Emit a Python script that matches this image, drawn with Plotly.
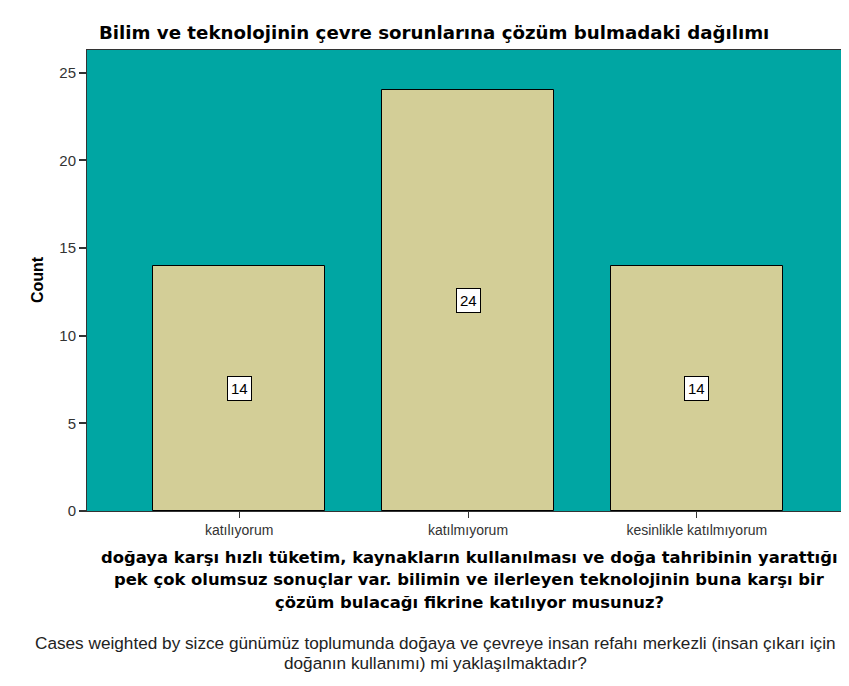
import plotly.graph_objects as go

categories = ["katılıyorum", "katılmıyorum", "kesinlikle katılmıyorum"]
counts = [14, 24, 14]
y_ticks = [0, 5, 10, 15, 20, 25]

title = "Bilim ve teknolojinin çevre sorunlarına çözüm bulmadaki dağılımı"
x_title_lines = ["doğaya karşı hızlı tüketim, kaynakların kullanılması ve doğa tahribinin yarattığı",
                 "pek çok olumsuz sonuçlar var. bilimin ve ilerleyen teknolojinin buna karşı bir",
                 "çözüm bulacağı fikrine katılıyor musunuz?"]
footnote_lines = ["Cases weighted by sizce günümüz toplumunda doğaya ve çevreye insan refahı merkezli (insan çıkarı için",
                  "doğanın kullanımı) mi yaklaşılmaktadır?"]

OFF = 8  # page body margin
W, H = 841, 668
ML, MR, MT, MB = 79, 0, 42, 165
PW = W - ML - MR
PH = H - MT - MB

def py(ypage):
    return (H - MB - (ypage - OFF)) / PH

def px(xpage):
    return ((xpage - OFF) - ML) / PW

fig = go.Figure()
fig.add_trace(go.Bar(
    x=categories, y=counts, width=0.75,
    marker=dict(color="#D3CE97", line=dict(color="#000000", width=1)),
    hoverinfo="skip",
))

for c, v in zip(categories, counts):
    fig.add_annotation(x=c, y=v / 2, xref="x", yref="y", text=str(v), showarrow=False,
                       bgcolor="white", bordercolor="black", borderwidth=1, borderpad=3,
                       font=dict(family="Liberation Sans", size=15, color="black"))

fig.add_annotation(x=px(97), y=py(32), xref="paper", yref="paper", text="<b>" + title + "</b>",
                   showarrow=False, xanchor="left", yanchor="middle",
                   font=dict(family="DejaVu Sans", size=18.2, color="black"))
for i, line in enumerate(x_title_lines):
    fig.add_annotation(x=px(469), y=py(557 + 22.5 * i), xref="paper", yref="paper", text="<b>" + line + "</b>",
                       showarrow=False, xanchor="center", yanchor="middle",
                       font=dict(family="DejaVu Sans", size=16.4, color="black"))
for i, line in enumerate(footnote_lines):
    fig.add_annotation(x=px(435), y=py(643 + 19.5 * i), xref="paper", yref="paper", text=line,
                       showarrow=False, xanchor="center", yanchor="middle",
                       font=dict(family="Liberation Sans", size=17.2, color="#222222"))
fig.add_annotation(x=px(37), y=py(280), xref="paper", yref="paper", text="<b>Count</b>",
                   showarrow=False, textangle=-90, xanchor="center", yanchor="middle",
                   font=dict(family="Liberation Sans", size=16, color="black"))

fig.update_layout(
    width=W, height=H,
    margin=dict(l=ML, r=MR, t=MT, b=MB),
    paper_bgcolor="white", plot_bgcolor="#00A6A3",
    showlegend=False, bargap=0,
    font=dict(family="Liberation Sans", color="black"),
)
fig.update_xaxes(range=[-0.665, 2.665], showline=True, linecolor="#333333", linewidth=1, mirror=True,
                 ticks="outside", ticklen=6, tickcolor="#333333", tickwidth=1,
                 tickfont=dict(family="Liberation Sans", size=14, color="#333333"), showgrid=False, fixedrange=True)
fig.update_yaxes(range=[0, 26.3], tickvals=y_ticks, showline=True, linecolor="#333333", linewidth=1, mirror=False,
                 ticks="outside", ticklen=7, tickcolor="#333333", tickwidth=2,
                 tickfont=dict(family="Liberation Sans", size=15, color="#333333"), showgrid=False, zeroline=False,
                 fixedrange=True)

fig.write_html("out.html", config={"displayModeBar": False})
